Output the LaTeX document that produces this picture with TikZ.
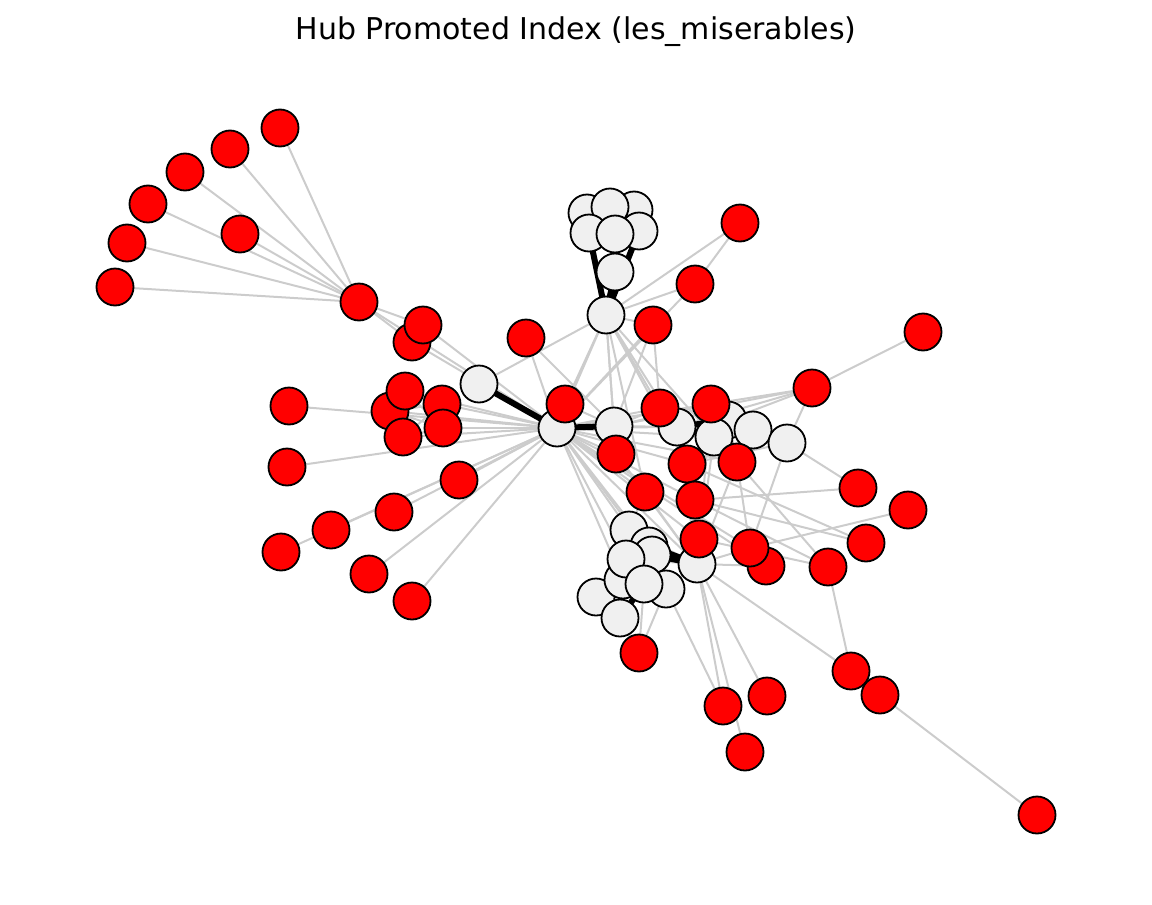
\documentclass[tikz,border=0pt]{standalone}
\usepackage{fontspec}
\setmainfont{DejaVu Sans}
\pgfdeclarelayer{background}
\pgfsetlayers{background,main}
\definecolor{nodegray}{HTML}{F0F0F0}
\definecolor{edgegray}{HTML}{CCCCCC}
\tikzset{
  rn/.style={circle, draw=black, line width=1.8pt, fill=red, minimum size=37pt, inner sep=0pt},
  wn/.style={circle, draw=black, line width=1.8pt, fill=nodegray, minimum size=37pt, inner sep=0pt},
  ge/.style={draw=edgegray, line width=2pt},
  be/.style={draw=black, line width=6pt},
  titlestyle/.style={font=\fontsize{30}{36}\selectfont, inner sep=0pt}
}
\begin{document}
\begin{tikzpicture}[x=1pt,y=-1pt]
\useasboundingbox (0,0) rectangle (1152,905);
\node[titlestyle] (title) at (576,32) {Hub Promoted Index (les\_miserables)};
% white nodes
\node[wn] (w1) at (587,213) {};
\node[wn] (w3) at (634,210) {};
\node[wn] (w2) at (610,207) {};
\node[wn] (w4) at (589,233) {};
\node[wn] (w5) at (639,231) {};
\node[wn] (w6) at (615,234) {};
\node[wn] (w7) at (615,272) {};
\node[wn] (w8) at (606,315) {};
\node[wn] (w9) at (479,384) {};
\node[wn] (w10) at (557,428) {};
\node[wn] (w11) at (614,426) {};
\node[wn] (w12) at (677,427) {};
\node[wn] (w13) at (728,420) {};
\node[wn] (w14) at (714,437) {};
\node[wn] (w15) at (753,430) {};
\node[wn] (w16) at (787,443) {};
\node[wn] (w17) at (629,530) {};
\node[wn] (w18) at (649,546) {};
\node[wn] (w19) at (652,555) {};
\node[wn] (w24) at (596,597) {};
\node[wn] (w25) at (620,618) {};
\node[wn] (w21) at (623,580) {};
\node[wn] (w20) at (626,559) {};
\node[wn] (w23) at (666,589) {};
\node[wn] (w22) at (644,584) {};
\node[wn] (w26) at (697,564) {};
% red nodes
\node[rn] (r1) at (280,128) {};
\node[rn] (r2) at (230,149) {};
\node[rn] (r3) at (185,172) {};
\node[rn] (r4) at (148,204) {};
\node[rn] (r5) at (127,243) {};
\node[rn] (r6) at (115,287) {};
\node[rn] (r7) at (240,234) {};
\node[rn] (r8) at (359,302) {};
\node[rn] (r10) at (412,342) {};
\node[rn] (r9) at (423,325) {};
\node[rn] (r11) at (526,338) {};
\node[rn] (r13) at (390,411) {};
\node[rn] (r12) at (405,391) {};
\node[rn] (r15) at (403,437) {};
\node[rn] (r14) at (442,404) {};
\node[rn] (r16) at (443,428) {};
\node[rn] (r17) at (289,406) {};
\node[rn] (r18) at (287,467) {};
\node[rn] (r19) at (459,480) {};
\node[rn] (r20) at (394,512) {};
\node[rn] (r21) at (331,530) {};
\node[rn] (r22) at (281,552) {};
\node[rn] (r23) at (369,574) {};
\node[rn] (r24) at (412,601) {};
\node[rn] (r25) at (565,404) {};
\node[rn] (r26) at (653,325) {};
\node[rn] (r27) at (695,284) {};
\node[rn] (r28) at (740,223) {};
\node[rn] (r29) at (923,332) {};
\node[rn] (r30) at (812,388) {};
\node[rn] (r31) at (660,408) {};
\node[rn] (r32) at (711,404) {};
\node[rn] (r33) at (616,454) {};
\node[rn] (r34) at (687,464) {};
\node[rn] (r35) at (737,462) {};
\node[rn] (r36) at (645,492) {};
\node[rn] (r37) at (695,500) {};
\node[rn] (r38) at (858,488) {};
\node[rn] (r39) at (908,510) {};
\node[rn] (r40) at (866,543) {};
\node[rn] (r41) at (828,567) {};
\node[rn] (r42) at (699,539) {};
\node[rn] (r44) at (766,566) {};
\node[rn] (r43) at (750,548) {};
\node[rn] (r45) at (639,653) {};
\node[rn] (r47) at (880,695) {};
\node[rn] (r46) at (851,671) {};
\node[rn] (r48) at (723,706) {};
\node[rn] (r49) at (767,696) {};
\node[rn] (r50) at (745,752) {};
\node[rn] (r51) at (1037,815) {};
\begin{pgfonlayer}{background}
\foreach \a/\b in {r8/r1,r8/r2,r8/r3,r8/r4,r8/r5,r8/r6,r8/r7,r8/r9,r8/r10,r8/w10,
  r9/r10,r9/w10,r10/w10,
  r12/r13,r12/r14,r12/r15,r12/r16,r13/r14,r13/r15,r13/r16,r14/r15,r14/r16,r15/r16,
  r12/w10,r13/w10,r14/w10,r15/w10,r16/w10,
  r17/w10,r18/w10,r19/w10,r20/w10,r21/w10,r22/w10,r23/w10,r24/w10,
  r11/w10,r11/w11,w9/w8,
  r25/w10,r25/w8,r25/w11,
  w1/w2,w2/w3,w1/w4,w4/w6,w6/w5,w3/w5,w2/w6,w6/w7,
  w8/w10,w8/w11,w8/r26,w8/r27,w8/r28,w8/w12,w8/w14,w8/r31,w8/r33,w8/r34,w8/r36,
  r26/w10,r26/w11,r26/r31,r28/r27,r27/w10,
  r29/r30,r30/w12,r30/w13,r30/r32,r30/w16,r30/w11,
  w12/w14,w13/w14,w13/w15,w14/w15,w15/w16,w13/w16,w12/r31,w12/r32,w14/r32,
  w14/r35,w14/r34,w13/r35,w15/r35,w12/r34,w12/w10,w14/w10,w12/w11,
  w11/r31,w11/r33,w10/r33,w10/r31,r32/w10,r32/w11,
  w16/r38,w16/r34,w16/r43,r38/r37,r39/r43,r40/r37,r40/r34,r41/r35,r41/r42,
  r41/r46,w26/r46,r46/r47,r47/r51,
  r48/w26,r48/w23,r50/w26,r49/w26,r45/w25,r45/w22,r45/w23,
  w17/w18,w17/w20,w17/w26,w18/w19,w19/w20,w20/w21,w21/w22,w22/w23,w21/w24,
  w24/w25,w23/w26,w20/w26,w17/w10,w19/w10,w21/w10,
  w10/w18,w10/w20,w10/w26,w10/r36,w10/r37,w10/r42,w10/r43,w10/r44,w10/r34,w10/r35,
  r33/w26,r33/r36,r36/w26,r36/w17,r37/w26,r37/r42,r42/w26,r43/w26,r44/w26,
  r35/w26,r34/w26,r34/r37,r31/r34,r32/w26,w14/w26,w12/w26,r35/r43,r41/r37}
  \draw[ge] (\a.center) -- (\b.center);
\foreach \a/\b in {w9/w10,w10/w11,w8/w4,w8/w5,w8/w7,w12/w13,
  w18/w26,w19/w26,w21/w25,w22/w25}
  \draw[be] (\a.center) -- (\b.center);
\end{pgfonlayer}
\end{tikzpicture}
\end{document}
